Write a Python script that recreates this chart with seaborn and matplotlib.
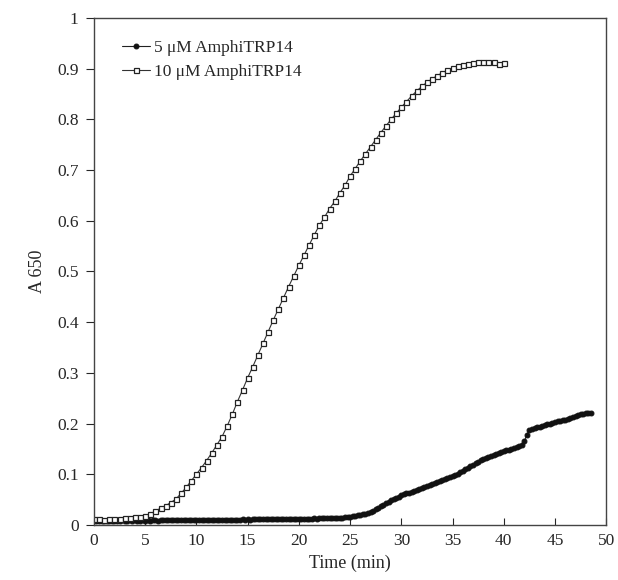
import numpy as np
import pandas as pd
import matplotlib.pyplot as plt
import seaborn as sns

plt.switch_backend('Agg')
sns.set_theme(style="ticks")
plt.rcParams['font.family'] = ['Liberation Serif', 'DejaVu Serif']

# 10 uM AmphiTRP14, one reading every 0.5 min (0 - 40 min)
t_10 = np.arange(0, 40.01, 0.5)
a_10 = [
    0.012, 0.011, 0.010, 0.011, 0.012, 0.012, 0.013, 0.014, 0.015, 0.016,
    0.018, 0.022, 0.027, 0.033, 0.038, 0.044, 0.051, 0.062, 0.074, 0.087,
    0.100, 0.113, 0.127, 0.142, 0.158, 0.174, 0.195, 0.218, 0.243, 0.266,
    0.290, 0.312, 0.335, 0.358, 0.381, 0.404, 0.426, 0.448, 0.470, 0.491,
    0.512, 0.532, 0.552, 0.572, 0.591, 0.607, 0.624, 0.638, 0.655, 0.670,
    0.688, 0.703, 0.718, 0.732, 0.746, 0.760, 0.774, 0.787, 0.800, 0.812,
    0.824, 0.835, 0.846, 0.856, 0.865, 0.873, 0.880, 0.886, 0.892, 0.897,
    0.901, 0.905, 0.908, 0.910, 0.912, 0.913, 0.914, 0.914, 0.913, 0.910,
    0.911,
]

# 5 uM AmphiTRP14, one reading every 0.25 min (0 - 48.5 min)
t_5 = np.arange(0, 48.51, 0.25)
a_5 = [
    0.009, 0.008, 0.008, 0.008,  0.008, 0.008, 0.008, 0.008,
    0.008, 0.008, 0.008, 0.009,  0.008, 0.008, 0.009, 0.008,
    0.009, 0.008, 0.008, 0.009,  0.008, 0.009, 0.008, 0.009,
    0.009, 0.008, 0.009, 0.009,  0.009, 0.009, 0.009, 0.009,
    0.009, 0.009, 0.009, 0.009,  0.009, 0.009, 0.009, 0.010,
    0.009, 0.009, 0.010, 0.009,  0.010, 0.009, 0.010, 0.010,
    0.010, 0.010, 0.010, 0.010,  0.010, 0.010, 0.010, 0.010,
    0.010, 0.010, 0.011, 0.010,  0.011, 0.010, 0.011, 0.011,
    0.011, 0.011, 0.011, 0.011,  0.011, 0.011, 0.011, 0.011,
    0.011, 0.011, 0.011, 0.012,  0.011, 0.012, 0.011, 0.012,
    0.012, 0.012, 0.012, 0.012,  0.012, 0.012, 0.013, 0.012,
    0.013, 0.013, 0.013, 0.013,  0.013, 0.014, 0.013, 0.014,
    0.014, 0.014, 0.015, 0.015,  0.016, 0.017, 0.018, 0.019,
    0.020, 0.021, 0.022, 0.024,  0.026, 0.028, 0.031, 0.034,
    0.037, 0.040, 0.043, 0.046,  0.049, 0.051, 0.053, 0.055,
    0.058, 0.060, 0.062, 0.063,  0.065, 0.067, 0.068, 0.070,
    0.072, 0.074, 0.076, 0.078,  0.080, 0.082, 0.085, 0.087,
    0.089, 0.091, 0.093, 0.095,  0.097, 0.099, 0.101, 0.104,
    0.107, 0.110, 0.113, 0.116,  0.119, 0.122, 0.125, 0.128,
    0.130, 0.132, 0.134, 0.136,  0.138, 0.139, 0.141, 0.143,
    0.145, 0.147, 0.148, 0.150,  0.151, 0.153, 0.155, 0.157,
    0.165, 0.178, 0.187, 0.189,  0.191, 0.193, 0.194, 0.196,
    0.197, 0.199, 0.200, 0.201,  0.203, 0.204, 0.205, 0.206,
    0.207, 0.209, 0.210, 0.212,  0.214, 0.216, 0.218, 0.219,
    0.220, 0.221, 0.221,
]

x_ticks = [0, 5, 10, 15, 20, 25, 30, 35, 40, 45, 50]
y_ticks = [0, 0.1, 0.2, 0.3, 0.4, 0.5, 0.6, 0.7, 0.8, 0.9, 1]
y_labels = ["0", "0.1", "0.2", "0.3", "0.4", "0.5", "0.6", "0.7", "0.8", "0.9", "1"]

df5 = pd.DataFrame({"Time": t_5, "A650": a_5})
df10 = pd.DataFrame({"Time": t_10, "A650": a_10})

fig = plt.figure(figsize=(6.18, 5.8), dpi=100)
ax = fig.add_axes([0.152, 0.095, 0.829, 0.874])

sns.lineplot(data=df5, x="Time", y="A650", ax=ax, color="#222222", lw=0.8,
             marker="o", markersize=3.5, markerfacecolor="#111111",
             markeredgecolor="#111111", label="5 μM AmphiTRP14")
sns.lineplot(data=df10, x="Time", y="A650", ax=ax, color="#333333", lw=0.8,
             marker="s", markersize=3.6, markerfacecolor="white",
             markeredgecolor="#222222", markeredgewidth=0.9,
             label="10 μM AmphiTRP14")

ax.set_xlim(0, 50)
ax.set_ylim(0, 1)
ax.set_xticks(x_ticks)
ax.set_yticks(y_ticks)
ax.set_yticklabels(y_labels)
ax.tick_params(axis="x", direction="in", length=5, width=0.8, labelsize=12.5, pad=6)
ax.tick_params(axis="y", direction="out", length=6, width=0.8, labelsize=12.5, pad=5)
ax.set_xlabel("Time (min)", fontsize=13, labelpad=4)
ax.set_ylabel("A 650", fontsize=13, labelpad=8)
for s in ax.spines.values():
    s.set_color("#444444")
    s.set_linewidth(1.0)

ax.legend(loc="upper left", bbox_to_anchor=(0.035, 0.977), frameon=False,
          fontsize=12.5, handlelength=1.6, handletextpad=0.2, labelspacing=0.45,
          borderaxespad=0.2)

fig.savefig("out.png", dpi=100)
